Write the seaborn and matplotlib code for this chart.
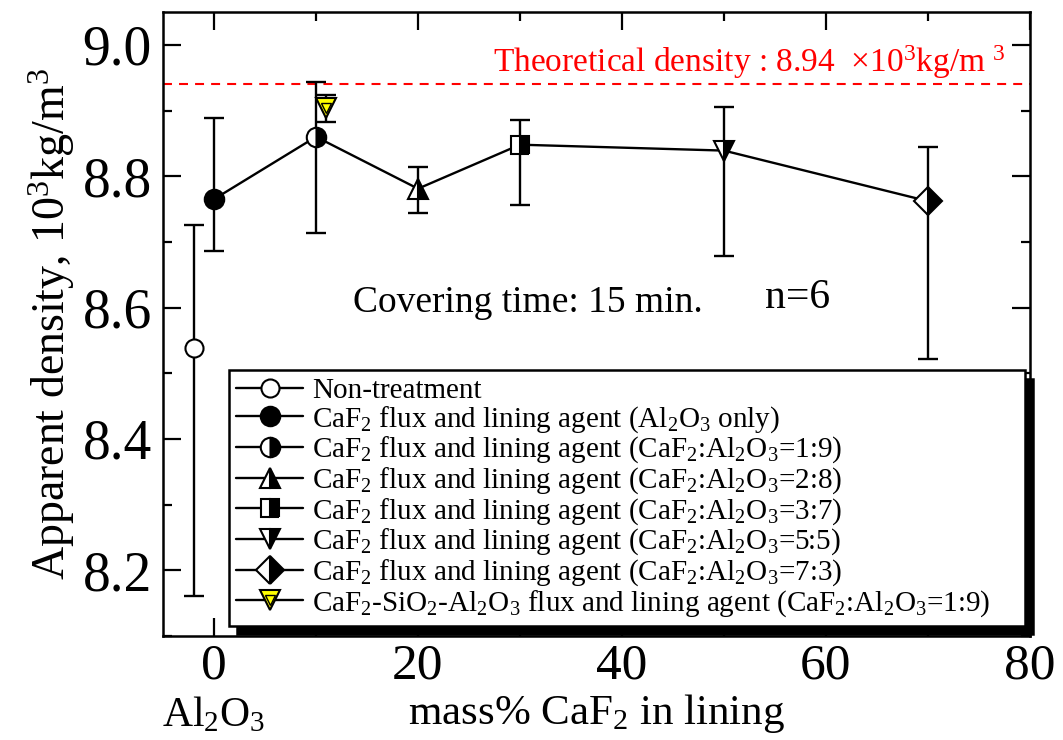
import matplotlib
matplotlib.use('Agg')
import matplotlib.pyplot as plt
import seaborn as sns
import pandas as pd
from matplotlib.ticker import MultipleLocator, FormatStrFormatter

# ---------------- data ----------------
labels = [
    'Non-treatment',
    'CaF$_2$ flux and lining agent (Al$_2$O$_3$ only)',
    'CaF$_2$ flux and lining agent (CaF$_2$:Al$_2$O$_3$=1:9)',
    'CaF$_2$ flux and lining agent (CaF$_2$:Al$_2$O$_3$=2:8)',
    'CaF$_2$ flux and lining agent (CaF$_2$:Al$_2$O$_3$=3:7)',
    'CaF$_2$ flux and lining agent (CaF$_2$:Al$_2$O$_3$=5:5)',
    'CaF$_2$ flux and lining agent (CaF$_2$:Al$_2$O$_3$=7:3)',
    'CaF$_2$-SiO$_2$-Al$_2$O$_3$ flux and lining agent (CaF$_2$:Al$_2$O$_3$=1:9)',
]
mass_caf2 = [-2, 0, 10, 20, 30, 50, 70, 11]
density = [8.538, 8.765, 8.860, 8.781, 8.848, 8.839, 8.762, 8.904]
err_high = [8.726, 8.888, 8.944, 8.814, 8.886, 8.905, 8.844, 8.923]
err_low = [8.161, 8.686, 8.713, 8.744, 8.756, 8.679, 8.522, 8.882]
connected = [1, 2, 3, 4, 5, 6]          # indices joined by the solid line
theoretical_density = 8.94

markers = ['o', 'o', 'o', '^', 's', 'v', 'D', 'v']
fillstyles = ['full', 'full', 'right', 'right', 'right', 'right', 'right', 'full']
facecolors = ['white', 'black', 'black', 'black', 'black', 'black', 'black', 'yellow']
msizes = [13, 14, 14, 14, 13.5, 14, 14, 14]

# ---------------- style ----------------
sns.set_theme(style='ticks')
plt.rcParams['font.family'] = ['Liberation Serif', 'DejaVu Serif']
plt.rcParams['mathtext.fontset'] = 'custom'
plt.rcParams['mathtext.rm'] = 'Liberation Serif'
plt.rcParams['mathtext.it'] = 'Liberation Serif:italic'
plt.rcParams['mathtext.bf'] = 'Liberation Serif:bold'
plt.rcParams['axes.linewidth'] = 1.8
for key in ['text.color', 'axes.labelcolor', 'xtick.color', 'ytick.color',
            'axes.edgecolor', 'xtick.labelcolor', 'ytick.labelcolor']:
    plt.rcParams[key] = 'black'

fig = plt.figure(figsize=(10.63, 7.40), dpi=100)
ax = fig.add_axes([163 / 1063, 1 - 636 / 740, 867 / 1063, 624 / 740])

df = pd.DataFrame({'x': mass_caf2, 'y': density, 'lo': err_low, 'hi': err_high})
line_df = df.iloc[connected]

# connecting line
sns.lineplot(data=line_df, x='x', y='y', ax=ax, color='black', lw=1.7,
             sort=False, estimator=None, legend=False, zorder=3)

# theoretical density
ax.axhline(theoretical_density, color='red', lw=1.5, dashes=(4.3, 3.4), zorder=2)

# error bars
for i in range(len(df)):
    r = df.iloc[i]
    ax.errorbar(r['x'], r['y'], yerr=[[r['y'] - r['lo']], [r['hi'] - r['y']]],
                fmt='none', ecolor='black', elinewidth=1.7, capsize=7,
                capthick=1.7, zorder=3)

handles = []
for i in range(len(df)):
    r = df.iloc[i]
    h, = ax.plot([r['x']], [r['y']], marker=markers[i], linestyle='-', color='black',
                 lw=1.7, markersize=msizes[i], fillstyle=fillstyles[i],
                 markerfacecolor=facecolors[i], markerfacecoloralt='white',
                 markeredgecolor='black', markeredgewidth=1.5, zorder=5)
    if i == len(df) - 1:
        h2, = ax.plot([r['x']], [r['y']], marker='v', linestyle='none',
                      markersize=7, markerfacecolor='yellow',
                      markeredgecolor='black', markeredgewidth=1.0, zorder=6)
        handles.append((h, h2))
    else:
        handles.append(h)

# axes
ax.set_xlim(-5, 80)
ax.set_ylim(8.1, 9.05)
ax.xaxis.set_major_locator(MultipleLocator(20))
ax.xaxis.set_minor_locator(MultipleLocator(10))
ax.yaxis.set_major_locator(MultipleLocator(0.2))
ax.yaxis.set_minor_locator(MultipleLocator(0.1))
ax.yaxis.set_major_formatter(FormatStrFormatter('%.1f'))
ax.tick_params(which='both', direction='in', top=True, right=True, width=1.6,
               color='black')
ax.tick_params(which='major', length=13)
ax.tick_params(which='minor', length=6.5)
ax.tick_params(axis='y', which='major', labelsize=40, pad=8)
ax.tick_params(axis='x', which='major', labelsize=37, pad=5)
for s in ax.spines.values():
    s.set_color('black')
    s.set_linewidth(1.8)

ax.set_ylabel('Apparent density, 10$^3$kg/m$^3$', fontsize=33, labelpad=4)
ax.set_xlabel('mass% CaF$_2$ in lining', fontsize=31, labelpad=2)
ax.text(0, -0.127, 'Al$_2$O$_3$', transform=ax.get_xaxis_transform(),
        ha='center', va='center', fontsize=30)

ax.text(0.381, 0.92, 'Theoretical density : 8.94  $\\times$10$^3$kg/m $^3$',
        transform=ax.transAxes, color='red', fontsize=24, ha='left', va='center')
ax.text(0.421, 0.534, 'Covering time: 15 min.', transform=ax.transAxes,
        fontsize=27, ha='center', va='center')
ax.text(0.732, 0.542, 'n=6', transform=ax.transAxes,
        fontsize=30, ha='center', va='center')

leg = ax.legend(handles, labels, loc='lower left',
                bbox_to_anchor=(0.076, 0.016, 0.918, 0.40), mode='expand',
                borderaxespad=0, fontsize=21, frameon=True, fancybox=False,
                framealpha=1, edgecolor='black', labelspacing=0.0,
                handlelength=2.3, handletextpad=0.3, borderpad=0.25,
                shadow={'ox': 6, 'oy': -6, 'color': 'black', 'alpha': 1})
leg.get_frame().set_linewidth(1.8)
leg.set_zorder(10)

fig.savefig('out.png', dpi=100)
